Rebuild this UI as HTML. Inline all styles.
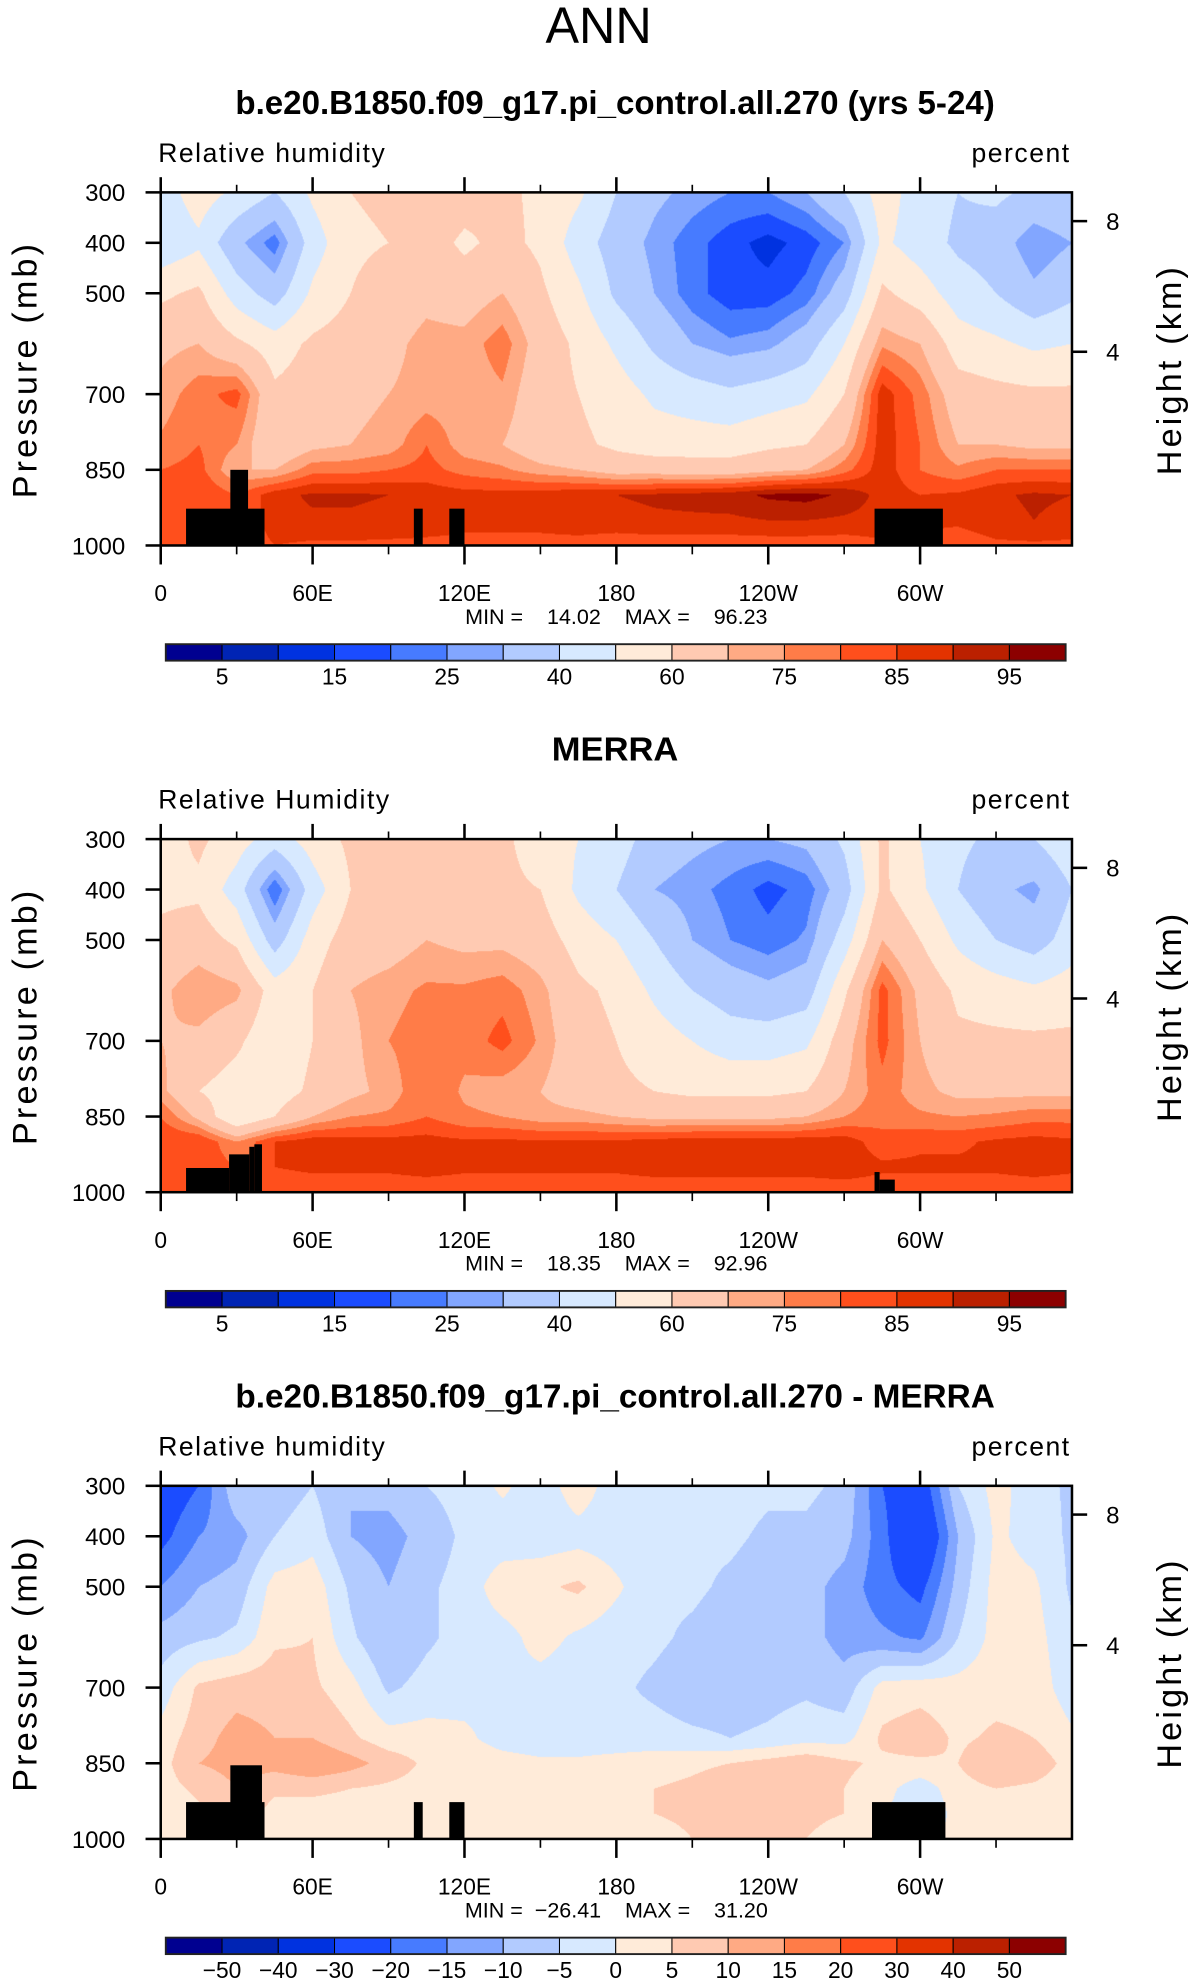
<!DOCTYPE html>
<html><head><meta charset="utf-8">
<style>
html,body{margin:0;padding:0;background:#fff;overflow:hidden;width:1196px;height:1987px}
#page{position:absolute;left:0;top:0;width:945px;height:1570px;transform:scale(1.26561);transform-origin:0 0}
svg{position:absolute;left:0;top:0}
canvas{position:absolute;width:720px;height:279px;left:127px}
text{font-family:"Liberation Sans",sans-serif;fill:#000}
</style></head>
<body>
<div id="page">
<canvas id="c0" width="911" height="353" style="top:152px"></canvas>
<canvas id="c1" width="911" height="353" style="top:663px"></canvas>
<canvas id="c2" width="911" height="353" style="top:1174px"></canvas>
<svg id="svg" width="945" height="1570" viewBox="0 0 945 1570" xmlns="http://www.w3.org/2000/svg">
<text x="473" y="34" font-size="40" text-anchor="middle" font-weight="300" textLength="84" lengthAdjust="spacingAndGlyphs">ANN</text>
</svg>
</div>
<script>
const lons=[0,15,30,45,60,75,90,105,120,135,150,165,180,195,210,225,240,255,270,285,300,315,330,345,360];
const plevs=[300,400,500,600,700,800,850,900,950,1000];
// each row = one longitude, values at plevs
const modelRH=[
[45,42,58,68,72,76,80,84,84,80],[55,48,62,70,78,80,82,85,85,82],[48,32,45,62,82,75,70,80,80,80],
[40,22,35,55,62,62,70,88,88,85],[52,45,52,62,65,68,78,91,89,84],[60,58,60,65,68,70,78,91,89,84],
[62,60,65,68,70,72,80,90,88,84],[68,65,68,72,72,80,82,88,87,84],[65,58,66,72,72,72,78,87,86,84],
[62,63,70,78,74,70,76,87,86,84],[58,58,62,66,64,64,72,88,87,83],[52,45,52,58,60,62,70,89,88,83],
[40,35,38,48,55,58,66,90,88,82],[32,28,30,38,48,55,66,91,89,82],[28,22,22,30,45,55,65,92,89,82],
[25,17,17,26,42,55,65,93,89,82],[25,13,17,28,45,58,68,96,90,82],[30,17,22,35,48,60,70,97,90,82],
[40,25,35,50,60,70,78,94,89,82],[55,52,62,74,88,88,88,88,88,84],[45,45,55,70,78,80,80,85,86,84],
[40,38,45,55,65,70,76,86,86,82],[42,35,40,52,63,70,80,89,88,84],[38,25,32,48,62,68,80,91,90,84],
[40,30,38,50,62,68,80,90,88,84]];
const merraRH=[
[55,58,62,68,70,72,80,85,85,80],[62,58,65,75,68,60,68,85,84,80],[55,45,58,72,62,55,50,75,80,80],
[45,20,35,55,52,55,60,85,85,82],[55,45,55,60,60,62,70,88,86,82],[62,60,65,70,68,68,75,87,86,82],
[62,60,66,73,75,72,76,87,86,82],[68,65,70,76,78,80,80,87,87,82],[65,62,68,76,77,74,76,86,86,82],
[62,62,68,78,82,72,75,86,86,82],[55,60,65,72,74,70,72,86,86,82],[50,48,56,62,64,65,72,86,86,82],
[45,40,50,58,60,62,70,86,86,82],[35,30,40,48,55,60,68,87,87,82],[32,27,30,40,50,58,68,88,87,82],
[30,23,25,35,45,58,68,88,87,82],[30,18,22,32,45,58,68,88,87,82],[32,22,26,35,48,60,70,88,87,82],
[42,35,45,58,66,70,75,88,88,82],[62,62,70,82,82,78,78,82,86,82],[50,52,60,68,70,72,76,84,86,82],
[42,40,48,58,62,68,75,84,86,82],[38,32,40,55,62,68,76,86,86,82],[40,28,35,52,62,68,78,87,87,82],
[48,40,45,55,62,68,78,86,86,82]];
const diffRH=[
[-25,-22,-15,-8,-3,2,3,3,2,2],[-20,-15,-10,-6,6,8,10,6,4,3],[-6,-12,-8,-4,8,12,12,10,8,8],
[-8,-5,2,4,8,10,12,6,3,2],[-5,-2,3,5,6,10,15,6,3,2],[-10,-10,-6,-4,2,6,12,5,3,2],
[-8,-12,-10,-10,-6,2,8,4,2,2],[-5,-8,-6,-6,-3,2,4,3,2,2],[-3,-4,-3,-3,-2,1,3,3,2,2],
[1,-3,3,-2,-1,-2,2,2,2,2],[-3,-3,4,2,-2,-3,1,2,2,2],[3,-2,6,-1,-3,-3,1,2,2,2],
[-3,-3,1,-3,-4,-3,2,3,3,2],[-2,-3,-4,-4,-6,-3,3,5,5,3],[-3,-4,-4,-6,-8,-4,4,6,6,5],
[-3,-4,-6,-8,-8,-5,5,8,7,6],[-4,-6,-8,-8,-7,-4,7,8,7,6],[-4,-6,-8,-8,-6,-2,9,6,6,5],
[-6,-8,-12,-12,-8,-2,6,5,5,3],[-20,-18,-18,-14,2,6,4,2,1,1],[-25,-30,-22,-16,3,8,4,-3,-5,-2],
[-5,-10,-8,-5,2,4,5,3,2,2],[2,1,2,2,3,6,10,5,4,3],[-3,-2,1,2,3,5,8,4,3,2],
[-6,-6,-6,-4,-3,1,3,2,2,2]];
// land masks: [lon0, lon1, top pressure]
const mask0=[[10,41,927],[27.5,34.5,850],[100,103.5,927],[114,120,927],[282,309,927]];
const mask1=[[10,27,952],[27,35,925],[35,37,910],[37,40,905],[282,284,960],[284,290,975]];
const mask2=[[10,41,927],[27.5,40,854],[100,103.5,927],[114,120,927],[281,310,927]];
const rhLevels=[5,10,15,20,25,30,40,50,60,70,75,80,85,90,95];
const diffLevels=[-50,-40,-30,-20,-15,-10,-5,0,5,10,15,20,30,40,50];
const rhTickLabels=['5','15','25','40','60','75','85','95'];
const diffTickLabels=['\u221250','\u221240','\u221230','\u221220','\u221215','\u221210','\u22125','0','5','10','15','20','30','40','50'];
const palette=['#000090','#0024b4','#0032e0','#1b4cff','#477bff','#82a6ff','#b2cbff','#d7e9ff','#ffebd9','#ffcab2','#ffaa84','#ff7c48','#ff4f1c','#e33300','#bb2000','#8c0000'];
const lonTicks=[0,60,120,180,240,300];
const lonLabels=['0','60E','120E','180','120W','60W'];
const presTicks=[300,400,500,700,850,1000];
const heightTicks=[8,4];
const heightP=[357,616];

const NS='http://www.w3.org/2000/svg';
const svg=document.getElementById('svg');
const PX0=127,PW=720,PH=279;
function xS(lon){return PX0+lon*PW/360;}
function yS(p,top){return top+(p-300)*PH/700;}
function el(tag,attrs,parent){const e=document.createElementNS(NS,tag);for(const k in attrs)e.setAttribute(k,attrs[k]);(parent||svg).appendChild(e);return e;}
function txt(x,y,s,size,anchor,extra){const t=el('text',Object.assign({x:x,y:y,'font-size':size,'text-anchor':anchor||'start'},extra||{}));t.textContent=s;return t;}
function rgb(h){return [parseInt(h.substr(1,2),16),parseInt(h.substr(3,2),16),parseInt(h.substr(5,2),16)];}
const palRGB=palette.map(rgb);

function drawField(cid,data,levels){
  const cv=document.getElementById(cid),ctx=cv.getContext('2d');
  const W=cv.width,H=cv.height,img=ctx.createImageData(W,H);
  for(let j=0;j<H;j++){
    const p=300+700*(j+0.5)/H;
    let k=0;while(k<plevs.length-2&&plevs[k+1]<p)k++;
    const fp=(p-plevs[k])/(plevs[k+1]-plevs[k]);
    for(let i=0;i<W;i++){
      const lon=360*(i+0.5)/W;
      let m=Math.min(Math.floor(lon/15),lons.length-2);
      const fl=(lon-lons[m])/15;
      const v=(1-fl)*((1-fp)*data[m][k]+fp*data[m][k+1])+fl*((1-fp)*data[m+1][k]+fp*data[m+1][k+1]);
      let c=0;while(c<levels.length&&v>=levels[c])c++;
      const col=palRGB[c],o=(j*W+i)*4;
      img.data[o]=col[0];img.data[o+1]=col[1];img.data[o+2]=col[2];img.data[o+3]=255;
    }
  }
  ctx.putImageData(img,0,0);
}

function panel(top,title,cid,data,levels,masks,minmax,cbLabels,allLabels,pfx){
  drawField(cid,data,levels);
  const t=txt(486,top-62,title,26,'middle',{'font-weight':'bold'});
  
  if(title.length>10){t.setAttribute('textLength',title.length>40?600:String(title.length*12.9));t.setAttribute('lengthAdjust','spacingAndGlyphs');}
  else{t.setAttribute('textLength','100');t.setAttribute('lengthAdjust','spacingAndGlyphs');}
  const a=txt(125,top-24,pfx==='merra'?'Relative Humidity':'Relative humidity',21,'start',{'letter-spacing':'1.2'});
  
  const u=txt(846,top-24,'percent',21,'end',{'letter-spacing':'1.2'});
  
  masks.forEach(m=>{
    const r=el('rect',{x:xS(m[0]),y:yS(m[2],top),width:xS(m[1])-xS(m[0]),height:yS(1000,top)-yS(m[2],top),fill:'#000'});
    
  });
  const fr=el('rect',{x:PX0,y:top,width:PW,height:PH,fill:'none',stroke:'#000','stroke-width':2});
  
  for(let l=0;l<360;l+=30){
    const maj=l%60===0,x=xS(l);
    el('line',{x1:x,y1:top,x2:x,y2:top-(maj?12:6),stroke:'#000','stroke-width':maj?2:1.3});
    el('line',{x1:x,y1:top+PH,x2:x,y2:top+PH+(maj?15:7),stroke:'#000','stroke-width':maj?2:1.3});
  }
  lonTicks.forEach((l,i)=>{const tt=txt(xS(l),top+PH+44,lonLabels[i],18,'middle');
    });
  presTicks.forEach(p=>{const y=yS(p,top);
    el('line',{x1:PX0-12,y1:y,x2:PX0,y2:y,stroke:'#000','stroke-width':2});
    const tt=txt(99,y+7,String(p),19,'end');
    });
  heightTicks.forEach((h,i)=>{const y=yS(heightP[i],top);
    el('line',{x1:PX0+PW,y1:y,x2:PX0+PW+12,y2:y,stroke:'#000','stroke-width':2});
    const tt=txt(874,y+7,String(h),19,'start');
    });
  const yl=txt(0,0,'Pressure  (mb)',27,'middle',{transform:'translate(29,'+(top+140)+') rotate(-90)','letter-spacing':'2.5'});
  
  const hl=txt(0,0,'Height  (km)',27,'middle',{transform:'translate(933,'+(top+140)+') rotate(-90)','letter-spacing':'2.5'});
  
  const mm=txt(487,top+341,minmax,17,'middle',{style:'white-space:pre'});
  
  const cbx=131,cbw=711,cby=top+357,cbh=13,bw=cbw/16;
  palette.forEach((c,i)=>{const r=el('rect',{x:cbx+i*bw,y:cby,width:bw,height:cbh,fill:c,stroke:'#000','stroke-width':0.8});
    });
  el('rect',{x:cbx,y:cby,width:cbw,height:cbh,fill:'none',stroke:'#222','stroke-width':1.5});
  cbLabels.forEach((s,i)=>{const k=allLabels?i+1:2*i+1;
    const tt=txt(cbx+k*bw,cby+32,s,18,'middle');
    });
}
panel(152,'b.e20.B1850.f09_g17.pi_control.all.270 (yrs 5-24)','c0',modelRH,rhLevels,mask0,'MIN =    14.02    MAX =    96.23',rhTickLabels,false,'model');
panel(663,'MERRA','c1',merraRH,rhLevels,mask1,'MIN =    18.35    MAX =    92.96',rhTickLabels,false,'merra');
panel(1174,'b.e20.B1850.f09_g17.pi_control.all.270 - MERRA','c2',diffRH,diffLevels,mask2,'MIN =  \u221226.41    MAX =    31.20',diffTickLabels,true,'diff');
</script>
</body></html>
